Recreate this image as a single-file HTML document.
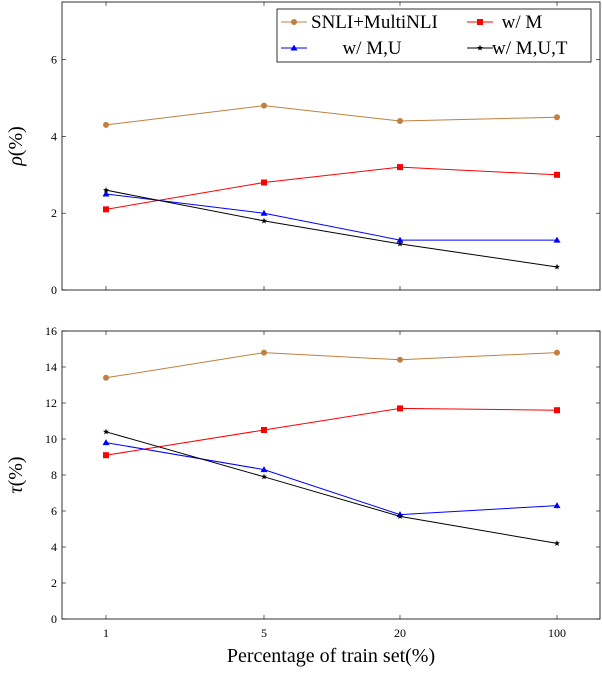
<!DOCTYPE html>
<html><head><meta charset="utf-8"><style>
body{margin:0;background:#fff}
svg text{font-family:"Liberation Serif",serif;fill:#000}
</style></head><body>
<svg id="c" width="602" height="668" xmlns="http://www.w3.org/2000/svg"></svg>
<script>
const categories=["1","5","20","100"];
const seriesNames=["SNLI+MultiNLI","w/ M","w/ M,U","w/ M,U,T"];
const rhoSNLI=[4.3,4.8,4.4,4.5];
const rhoM=[2.1,2.8,3.2,3.0];
const rhoMU=[2.5,2.0,1.3,1.3];
const rhoMUT=[2.6,1.8,1.2,0.6];
const tauSNLI=[13.4,14.8,14.4,14.8];
const tauM=[9.1,10.5,11.7,11.6];
const tauMU=[9.8,8.3,5.8,6.3];
const tauMUT=[10.4,7.9,5.7,4.2];
const rhoTicks=[0,2,4,6];
const tauTicks=[0,2,4,6,8,10,12,14,16];

const NS="http://www.w3.org/2000/svg";
const svg=document.getElementById('c');
function el(t,a,p){const e=document.createElementNS(NS,t);for(const k in a)e.setAttribute(k,a[k]);(p||svg).appendChild(e);return e;}
const X0=62,X1=600;
const xPos=[106,264,400,557];
function xs(i){return xPos[i];}
const colors=["#bf8040","#ff0000","#0000ff","#000000"];
const markers=["circle","square","triangle","star"];
function marker(type,x,y,c,g){
 if(type==="circle"){const m=el('circle',{cx:x,cy:y,r:3,fill:c},g);return m;}
 if(type==="square"){return el('rect',{x:x-3,y:y-3,width:6,height:6,fill:c},g);}
 if(type==="triangle"){return el('polygon',{points:`${x},${y-3.5} ${x-3.5},${y+2.5} ${x+3.5},${y+2.5}`,fill:c},g);}
 let p=[];for(let k=0;k<10;k++){const r=k%2?1.3:3.2;const a=-Math.PI/2+k*Math.PI/5;p.push((x+r*Math.cos(a)).toFixed(1)+','+(y+r*Math.sin(a)).toFixed(1));}
 return el('polygon',{points:p.join(' '),fill:c},g);
}
function panel(name,top,bottom,ymax,ticks,data,ylabel,showX){
 const g=el('g',{});
 
 
 const ys=v=>bottom-(v/ymax)*(bottom-top);
 ticks.forEach(t=>{
  const y=ys(t);
  el('line',{x1:X0,x2:X0+4,y1:y,y2:y,stroke:'#000','stroke-width':0.6},g);
  el('line',{x1:X1-4,x2:X1,y1:y,y2:y,stroke:'#000','stroke-width':0.6},g);
  const tx=el('text',{x:X0-5,y:y+4,'text-anchor':'end','font-size':12},g);tx.textContent=t;
  
  
 });
 categories.forEach((c,i)=>{
  el('line',{x1:xs(i),x2:xs(i),y1:bottom,y2:bottom-4,stroke:'#000','stroke-width':0.6},g);
  el('line',{x1:xs(i),x2:xs(i),y1:top,y2:top+4,stroke:'#000','stroke-width':0.6},g);
  if(showX){const t=el('text',{x:xs(i),y:bottom+18,'text-anchor':'middle','font-size':12},g);t.textContent=c;
   
   }
 });
 data.forEach((d,s)=>{
  const sg=el('g',{},g);
  
  
  el('polyline',{points:d.map((v,i)=>xs(i)+','+ys(v)).join(' '),fill:'none',stroke:colors[s],'stroke-width':1},sg);
  d.forEach((v,i)=>{const m=marker(markers[s],xs(i),ys(v),colors[s],sg);
   
   });
 });
 el('rect',{x:X0,y:top,width:X1-X0,height:bottom-top,fill:'none',stroke:'#000','stroke-width':0.8},g);
 const yl=el('text',{x:0,y:0,'text-anchor':'middle','font-size':20,'font-style':'italic',transform:`translate(22,${(top+bottom)/2}) rotate(-90)`},g);
 yl.innerHTML=ylabel;
 
 
}
panel('rho',2,290,7.5,rhoTicks,[rhoSNLI,rhoM,rhoMU,rhoMUT],'ρ<tspan font-style="normal">(%)</tspan>',false);
panel('tau',331,619,16,tauTicks,[tauSNLI,tauM,tauMU,tauMUT],'τ<tspan font-style="normal">(%)</tspan>',true);
const xt=el('text',{x:331,y:662,'text-anchor':'middle','font-size':20});
xt.textContent='Percentage of train set(%)';


// legend
const lg=el('g',{});


el('rect',{x:277,y:9,width:314,height:53,fill:'#fff',stroke:'#000','stroke-width':0.8},lg);
const pos=[[281,22,'start',311],[467,22,'middle',522],[281,48,'middle',372],[467,48,'start',492]];
seriesNames.forEach((n,s)=>{
 const e=el('g',{},lg);
 
 
 const [lx,ly,anc,tx]=pos[s];
 el('line',{x1:lx,x2:lx+26,y1:ly,y2:ly,stroke:colors[s],'stroke-width':1},e);
 marker(markers[s],lx+13,ly,colors[s],e);
 const t=el('text',{x:tx,y:ly+6,'text-anchor':anc,'font-size':19},e);t.textContent=n;
});
</script>
</body></html>
